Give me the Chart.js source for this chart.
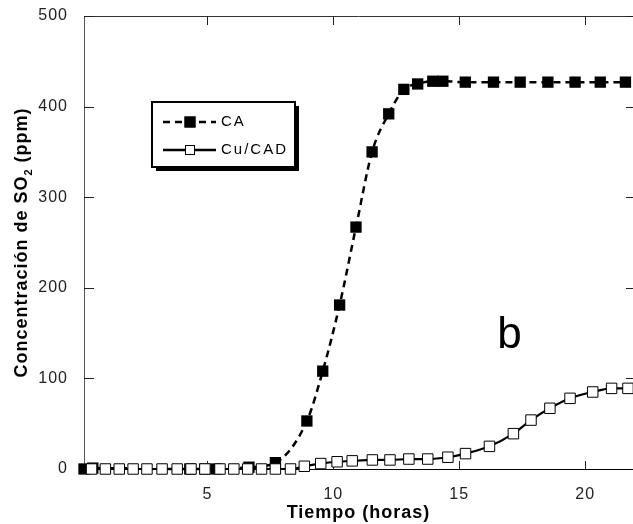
<!DOCTYPE html>
<html>
<head>
<meta charset="utf-8">
<script src="https://cdn.jsdelivr.net/npm/chart.js@4"></script>
<style>
  html, body { margin: 0; padding: 0; background: #fff; }
  #wrap { width: 633px; height: 524px; }
</style>
</head>
<body>
<div id="wrap"><canvas id="chart-so2"></canvas></div>
<script>
// DATOS //
const tiempoCA = [0.1, 0.45, 4.3, 4.9, 5.35, 6.65, 7.7, 8.95, 9.58, 10.25, 10.9, 11.54, 12.2, 12.8, 13.35, 13.95, 14.35, 15.24, 16.36, 17.42, 18.52, 19.6, 20.6, 21.6]
const concCA = [0, 1, 0, 0, 0, 2, 7, 53, 108, 181, 267, 350, 392, 419, 425, 428, 428, 427, 427, 427, 427, 427, 427, 427]

const tiempoCu = [0.4, 0.95, 1.5, 2.05, 2.6, 3.2, 3.8, 4.35, 4.9, 5.5, 6.05, 6.6, 7.15, 7.7, 8.3, 8.85, 9.5, 10.15, 10.75, 11.55, 12.25, 13.0, 13.75, 14.55, 15.25, 16.2, 17.15, 17.85, 18.6, 19.4, 20.3, 21.05, 21.7]
const concCu = [0, 0, 0, 0, 0, 0, 0, 0, 0, 0, 0, 0, 0, 0, 0, 3, 6, 8, 9, 10, 10, 11, 11, 13, 17, 25, 39, 54, 67, 78, 85, 89, 89]

const ticksX = [5, 10, 15, 20]
const ticksY = [0, 100, 200, 300, 400, 500]
const etiquetas = ['CA', 'Cu/CAD']
const letraPanel = 'b'
const posLetra = { x: 17.0, y: 134 }

// PLUGIN - BORDES, MARCAS HACIA DENTRO, LEYENDA, TÍTULO Y //
const marcoPlugin = {
    id: 'marco',
    beforeDraw(chart) {
        chart.ctx.letterSpacing = '1px'
    },
    beforeDatasetsDraw(chart) {
        const { ctx, chartArea: a, scales: { x, y } } = chart
        ctx.save()
        ctx.lineWidth = 1
        // borde superior
        ctx.strokeStyle = '#333'
        ctx.beginPath()
        ctx.moveTo(a.left, a.top + 0.5)
        ctx.lineTo(a.right, a.top + 0.5)
        ctx.stroke()
        // marcas eje x (abajo y arriba)
        ctx.strokeStyle = '#222'
        x.ticks.forEach(t => {
            const px = Math.round(x.getPixelForValue(t.value)) + 0.5
            ctx.beginPath()
            ctx.moveTo(px, a.bottom)
            ctx.lineTo(px, a.bottom - 8)
            ctx.moveTo(px, a.top)
            ctx.lineTo(px, a.top + 9)
            ctx.stroke()
        })
        // marcas eje y (izquierda y derecha)
        y.ticks.forEach(t => {
            if (t.value === 0) return
            const py = Math.round(y.getPixelForValue(t.value)) + 0.5
            ctx.beginPath()
            ctx.moveTo(a.left, py)
            ctx.lineTo(a.left + 10, py)
            ctx.moveTo(a.right, py)
            ctx.lineTo(a.right - 7, py)
            ctx.stroke()
        })
        ctx.restore()
    },
    afterDraw(chart) {
        const { ctx, scales: { x, y } } = chart
        ctx.save()

        // letra del panel
        ctx.letterSpacing = '0px'
        ctx.fillStyle = '#000'
        ctx.font = '44px "Liberation Sans", Arial, sans-serif'
        ctx.textAlign = 'center'
        ctx.textBaseline = 'alphabetic'
        ctx.fillText(letraPanel, x.getPixelForValue(posLetra.x), y.getPixelForValue(posLetra.y))

        // título eje y con subíndice
        const fuente = 'bold 18px "Liberation Sans", Arial, sans-serif'
        const fuenteSub = 'bold 11px "Liberation Sans", Arial, sans-serif'
        const t1 = 'Concentración de SO'
        const t2 = '2'
        const t3 = ' (ppm)'
        ctx.letterSpacing = '1px'
        ctx.font = fuente
        const w1 = ctx.measureText(t1).width
        const w3 = ctx.measureText(t3).width
        ctx.font = fuenteSub
        const w2 = ctx.measureText(t2).width
        const total = w1 + w2 + w3
        const cy = (chart.chartArea.top + chart.chartArea.bottom) / 2
        ctx.translate(22, cy)
        ctx.rotate(-Math.PI / 2)
        ctx.textAlign = 'left'
        ctx.textBaseline = 'middle'
        let cx = -total / 2
        ctx.font = fuente
        ctx.fillText(t1, cx, 0)
        cx += w1
        ctx.font = fuenteSub
        ctx.fillText(t2, cx, 7)
        cx += w2
        ctx.font = fuente
        ctx.fillText(t3, cx, 0)
        ctx.restore()

        // leyenda con sombra
        ctx.save()
        const box = { x: 152, y: 102, w: 143, h: 65 }
        ctx.fillStyle = '#000'
        ctx.fillRect(box.x + 4, box.y + 4, box.w, box.h)
        ctx.fillStyle = '#fff'
        ctx.fillRect(box.x, box.y, box.w, box.h)
        ctx.lineWidth = 2
        ctx.strokeStyle = '#000'
        ctx.strokeRect(box.x, box.y, box.w, box.h)

        const filas = [box.y + 20, box.y + 48]
        chart.data.datasets.forEach((ds, i) => {
            const fy = filas[i]
            ctx.lineWidth = 2.5
            ctx.setLineDash(ds.borderDash || [])
            ctx.beginPath()
            ctx.moveTo(box.x + 11, fy)
            ctx.lineTo(box.x + 64, fy)
            ctx.stroke()
            ctx.setLineDash([])
            const s = i === 0 ? 11 : 10
            ctx.fillStyle = ds.pointBackgroundColor
            ctx.fillRect(box.x + 38 - s / 2, fy - s / 2, s, s)
            ctx.lineWidth = 1
            ctx.strokeStyle = '#000'
            ctx.strokeRect(box.x + 38 - s / 2 + 0.5, fy - s / 2 + 0.5, s - 1, s - 1)
            ctx.fillStyle = '#000'
            ctx.font = '15px "Liberation Sans", Arial, sans-serif'
            ctx.letterSpacing = '2px'
            ctx.textAlign = 'left'
            ctx.textBaseline = 'middle'
            ctx.fillText(ds.label, box.x + 69, fy)
        })
        ctx.restore()
    }
}

// GRÁFICO //
const fuenteTicks = { family: '"Liberation Sans", Arial, sans-serif', size: 16 }

new Chart(document.getElementById('chart-so2'), {
    type: 'line',
    data: {
        datasets: [{
            label: etiquetas[0],
            data: tiempoCA.map((t, i) => ({ x: t, y: concCA[i] })),
            borderColor: '#000',
            borderWidth: 2.5,
            borderDash: [7, 5],
            cubicInterpolationMode: 'monotone',
            pointStyle: 'rect',
            pointRadius: 8,
            pointBorderWidth: 0,
            pointBackgroundColor: '#000',
            clip: false,
            order: 2
        }, {
            label: etiquetas[1],
            data: tiempoCu.map((t, i) => ({ x: t, y: concCu[i] })),
            borderColor: '#000',
            borderWidth: 2.2,
            cubicInterpolationMode: 'monotone',
            pointStyle: 'rect',
            pointRadius: 7.4,
            pointBorderWidth: 1,
            pointBorderColor: '#000',
            pointBackgroundColor: '#fff',
            clip: false,
            order: 1
        }]
    },
    options: {
        responsive: true,
        maintainAspectRatio: false,
        animation: false,
        layout: { autoPadding: false, padding: { top: 16, right: 0, bottom: 0, left: 0 } },
        scales: {
            x: {
                type: 'linear',
                min: 0.1,
                max: 21.9,
                afterBuildTicks: s => { s.ticks = ticksX.map(v => ({ value: v })) },
                afterFit: s => {
                    s.height = 55
                    s.paddingLeft = 0
                    s.paddingRight = 0
                },
                grid: { display: false, drawTicks: false },
                border: { display: true, color: '#000', width: 1 },
                ticks: { color: '#222', font: fuenteTicks, padding: 16, maxRotation: 0 },
                title: {
                    display: true,
                    text: 'Tiempo (horas)',
                    color: '#000',
                    font: { family: '"Liberation Sans", Arial, sans-serif', size: 18, weight: 'bold' },
                    padding: { top: 0, bottom: 0 }
                }
            },
            y: {
                min: 0,
                max: 500,
                afterBuildTicks: s => { s.ticks = ticksY.map(v => ({ value: v })) },
                afterFit: s => {
                    s.width = 84
                    s.paddingTop = 0
                    s.paddingBottom = 0
                },
                grid: { display: false, drawTicks: false },
                border: { display: true, color: '#555', width: 1 },
                ticks: { color: '#222', font: fuenteTicks, padding: 16 }
            }
        },
        plugins: {
            legend: { display: false },
            tooltip: { enabled: false }
        }
    },
    plugins: [marcoPlugin]
})
</script>
</body>
</html>
